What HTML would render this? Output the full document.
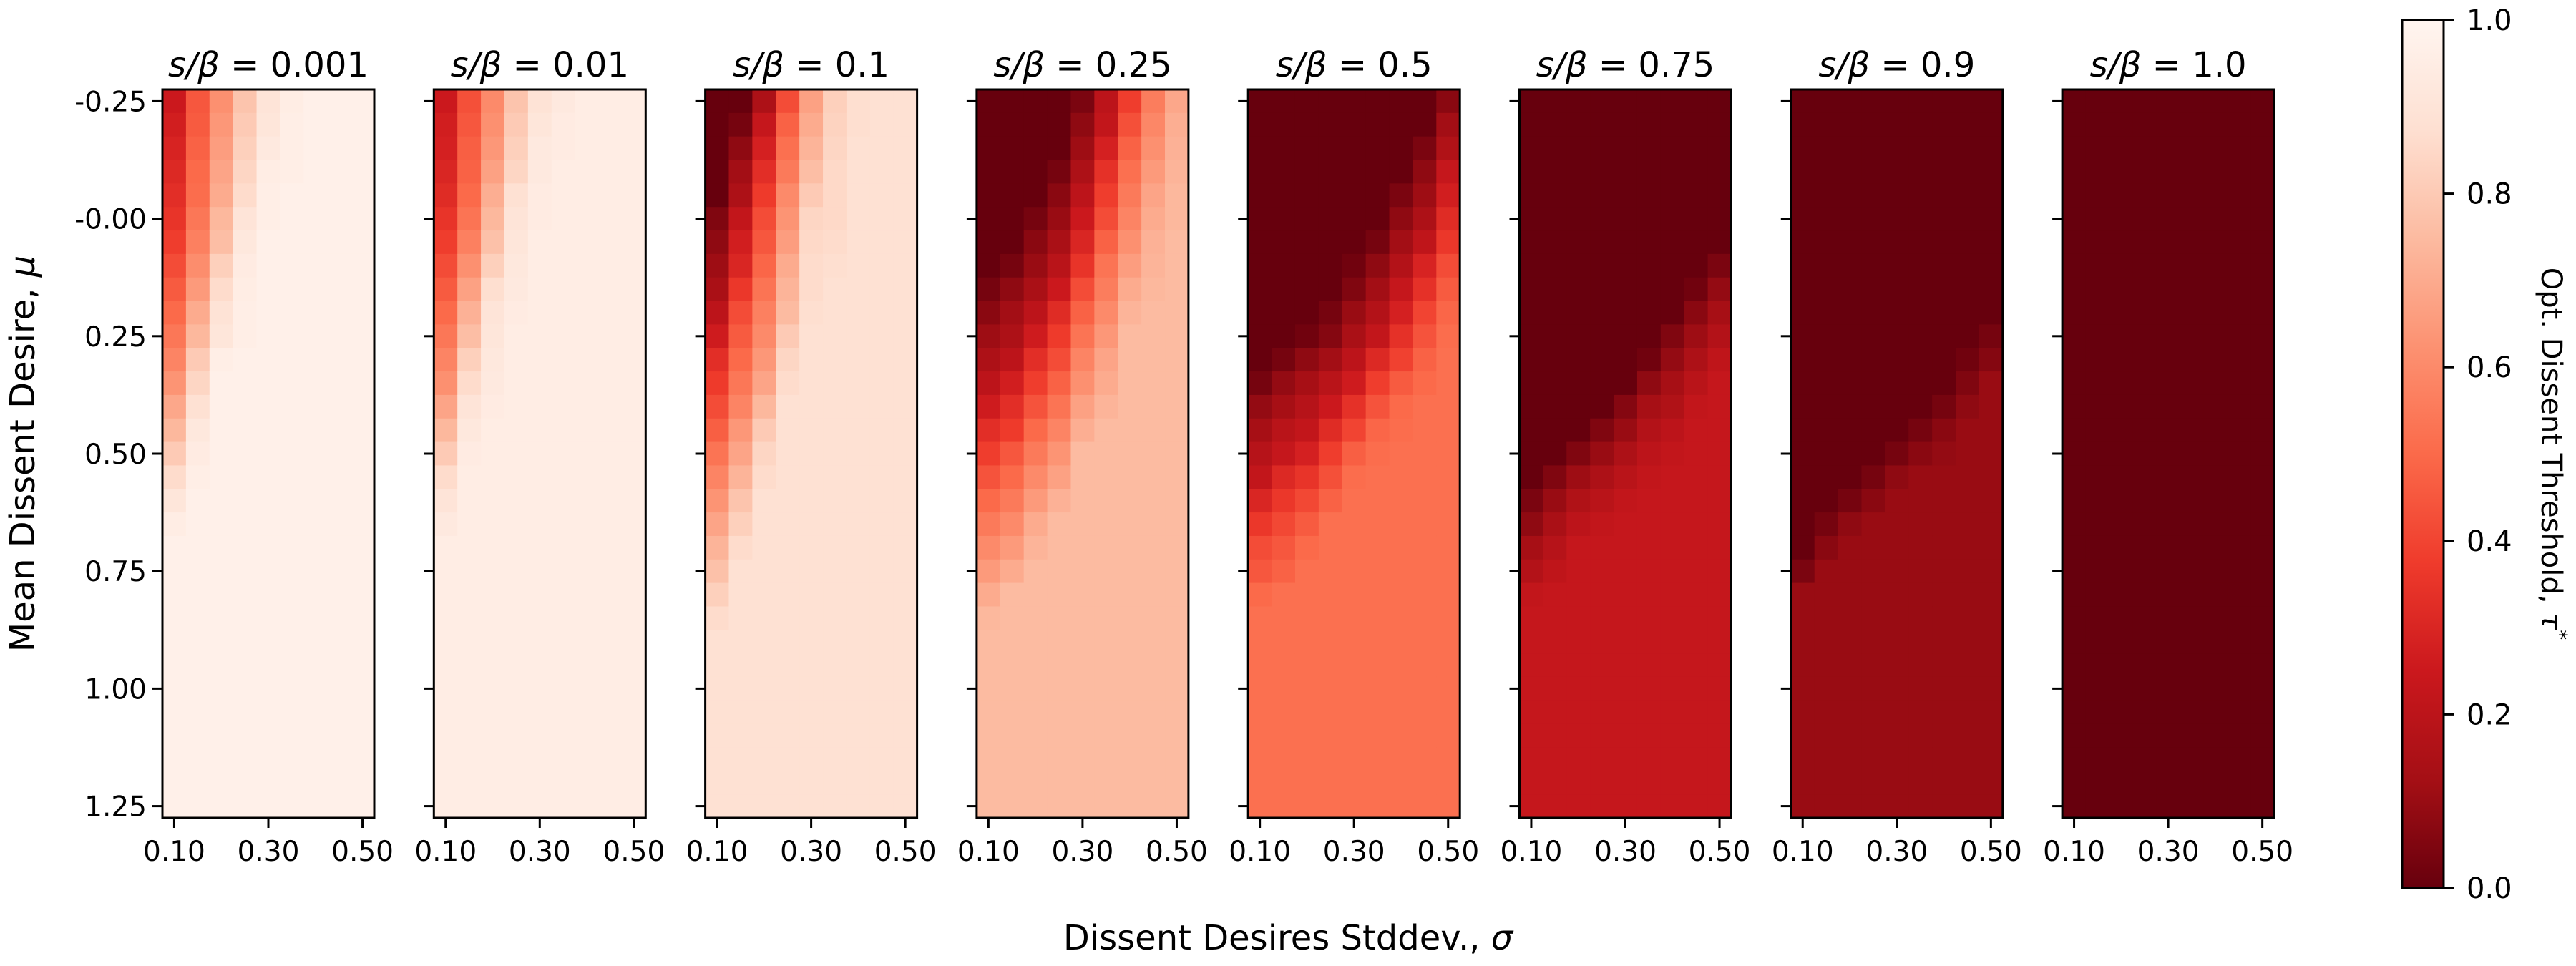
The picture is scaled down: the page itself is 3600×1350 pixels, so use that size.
<!DOCTYPE html>
<html><head><meta charset="utf-8"><style>
html,body{margin:0;padding:0;background:#fff;}
svg{display:block;font-family:"DejaVu Sans","Liberation Sans",sans-serif;}
</style></head><body>
<svg id="chart" width="3600" height="1350" viewBox="0 0 3600 1350" xmlns="http://www.w3.org/2000/svg">
<defs>
<linearGradient id="cbgrad" x1="0" y1="1" x2="0" y2="0">
<stop offset="0" stop-color="#67000d"/><stop offset="0.125" stop-color="#a50f15"/><stop offset="0.25" stop-color="#cb181d"/><stop offset="0.375" stop-color="#ef3b2c"/><stop offset="0.5" stop-color="#fb6a4a"/><stop offset="0.625" stop-color="#fc9272"/><stop offset="0.75" stop-color="#fcbba1"/><stop offset="0.875" stop-color="#fee0d2"/><stop offset="1" stop-color="#fff5f0"/>
</linearGradient>
</defs>
<g id="panels"></g>
<text x="0" y="0" font-size="48" text-anchor="middle" transform="translate(48,634) rotate(-90)">Mean Dissent Desire, <tspan font-style="italic">μ</tspan></text>
<text x="1800" y="1327" font-size="48" text-anchor="middle">Dissent Desires Stddev., <tspan font-style="italic">σ</tspan></text>
<g>
<rect x="3357" y="28" width="58" height="1213" fill="url(#cbgrad)" stroke="#000" stroke-width="3"/>
<g id="cbticks"></g>
<text x="0" y="0" font-size="40" text-anchor="middle" transform="translate(3552,634) rotate(90)">Opt. Dissent Threshold, <tspan font-style="italic">τ</tspan><tspan font-size="28" dy="-16">*</tspan></text>
</g>
</svg>
<script>
const sigmaLabels = ["0.10","0.15","0.20","0.25","0.30","0.35","0.40","0.45","0.50"];
const sigmaTickIdx = [0,4,8];
const muTickLabels = ["-0.25","-0.00","0.25","0.50","0.75","1.00","1.25"];
const muTickIdx = [0,5,10,15,20,25,30];
const panelTitles = ["0.001","0.01","0.1","0.25","0.5","0.75","0.9","1.0"];
const cbTicks = [0,0.2,0.4,0.6,0.8,1.0];
// each panel: 9 columns (sigma), each 31 rows (mu from -0.25 to 1.25)
const panel1 = [
[.25,.27,.29,.31,.33,.35,.38,.42,.46,.5,.54,.58,.63,.69,.74,.8,.86,.91,.95,.97,.97,.97,.97,.97,.97,.97,.97,.97,.97,.97,.97],
[.45,.46,.48,.5,.51,.54,.57,.61,.65,.7,.74,.8,.84,.88,.92,.94,.96,.97,.97,.97,.97,.97,.97,.97,.97,.97,.97,.97,.97,.97,.97],
[.62,.64,.66,.68,.7,.74,.76,.82,.86,.89,.91,.96,.97,.97,.97,.97,.97,.97,.97,.97,.97,.97,.97,.97,.97,.97,.97,.97,.97,.97,.97],
[.78,.8,.82,.84,.86,.9,.92,.94,.95,.96,.96,.97,.97,.97,.97,.97,.97,.97,.97,.97,.97,.97,.97,.97,.97,.97,.97,.97,.97,.97,.97],
[.9,.91,.93,.95,.96,.96,.97,.97,.97,.97,.97,.97,.97,.97,.97,.97,.97,.97,.97,.97,.97,.97,.97,.97,.97,.97,.97,.97,.97,.97,.97],
[.95,.96,.96,.96,.97,.97,.97,.97,.97,.97,.97,.97,.97,.97,.97,.97,.97,.97,.97,.97,.97,.97,.97,.97,.97,.97,.97,.97,.97,.97,.97],
[.97,.97,.97,.97,.97,.97,.97,.97,.97,.97,.97,.97,.97,.97,.97,.97,.97,.97,.97,.97,.97,.97,.97,.97,.97,.97,.97,.97,.97,.97,.97],
[.97,.97,.97,.97,.97,.97,.97,.97,.97,.97,.97,.97,.97,.97,.97,.97,.97,.97,.97,.97,.97,.97,.97,.97,.97,.97,.97,.97,.97,.97,.97],
[.97,.97,.97,.97,.97,.97,.97,.97,.97,.97,.97,.97,.97,.97,.97,.97,.97,.97,.97,.97,.97,.97,.97,.97,.97,.97,.97,.97,.97,.97,.97]
];
const panel2 = [
[.25,.27,.28,.3,.32,.35,.38,.42,.46,.5,.54,.58,.62,.68,.74,.8,.86,.9,.93,.95,.95,.95,.95,.95,.95,.95,.95,.95,.95,.95,.95],
[.43,.45,.47,.48,.5,.53,.57,.62,.67,.72,.76,.82,.86,.9,.92,.94,.95,.95,.95,.95,.95,.95,.95,.95,.95,.95,.95,.95,.95,.95,.95],
[.6,.62,.64,.67,.71,.74,.77,.82,.87,.9,.91,.92,.93,.94,.95,.95,.95,.95,.95,.95,.95,.95,.95,.95,.95,.95,.95,.95,.95,.95,.95],
[.78,.8,.82,.84,.88,.9,.91,.92,.93,.94,.95,.95,.95,.95,.95,.95,.95,.95,.95,.95,.95,.95,.95,.95,.95,.95,.95,.95,.95,.95,.95],
[.89,.91,.93,.93,.94,.94,.95,.95,.95,.95,.95,.95,.95,.95,.95,.95,.95,.95,.95,.95,.95,.95,.95,.95,.95,.95,.95,.95,.95,.95,.95],
[.93,.94,.94,.95,.95,.95,.95,.95,.95,.95,.95,.95,.95,.95,.95,.95,.95,.95,.95,.95,.95,.95,.95,.95,.95,.95,.95,.95,.95,.95,.95],
[.95,.95,.95,.95,.95,.95,.95,.95,.95,.95,.95,.95,.95,.95,.95,.95,.95,.95,.95,.95,.95,.95,.95,.95,.95,.95,.95,.95,.95,.95,.95],
[.95,.95,.95,.95,.95,.95,.95,.95,.95,.95,.95,.95,.95,.95,.95,.95,.95,.95,.95,.95,.95,.95,.95,.95,.95,.95,.95,.95,.95,.95,.95],
[.95,.95,.95,.95,.95,.95,.95,.95,.95,.95,.95,.95,.95,.95,.95,.95,.95,.95,.95,.95,.95,.95,.95,.95,.95,.95,.95,.95,.95,.95,.95]
];
const panel3 = [
[0,0,0,0,0,.05,.08,.11,.14,.2,.26,.33,.37,.42,.47,.53,.58,.63,.68,.73,.77,.82,.86,.88,.88,.88,.88,.88,.88,.88,.88],
[0,.03,.08,.12,.15,.22,.27,.3,.36,.42,.46,.5,.54,.58,.64,.68,.73,.78,.82,.86,.88,.88,.88,.88,.88,.88,.88,.88,.88,.88,.88],
[.15,.23,.28,.33,.37,.42,.45,.49,.53,.57,.6,.64,.68,.74,.8,.84,.86,.88,.88,.88,.88,.88,.88,.88,.88,.88,.88,.88,.88,.88,.88],
[.42,.48,.52,.55,.6,.63,.66,.7,.73,.75,.8,.84,.86,.88,.88,.88,.88,.88,.88,.88,.88,.88,.88,.88,.88,.88,.88,.88,.88,.88,.88],
[.67,.7,.73,.76,.8,.84,.85,.86,.86,.87,.88,.88,.88,.88,.88,.88,.88,.88,.88,.88,.88,.88,.88,.88,.88,.88,.88,.88,.88,.88,.88],
[.82,.83,.84,.85,.85,.85,.86,.87,.88,.88,.88,.88,.88,.88,.88,.88,.88,.88,.88,.88,.88,.88,.88,.88,.88,.88,.88,.88,.88,.88,.88],
[.87,.87,.88,.88,.88,.88,.88,.88,.88,.88,.88,.88,.88,.88,.88,.88,.88,.88,.88,.88,.88,.88,.88,.88,.88,.88,.88,.88,.88,.88,.88],
[.88,.88,.88,.88,.88,.88,.88,.88,.88,.88,.88,.88,.88,.88,.88,.88,.88,.88,.88,.88,.88,.88,.88,.88,.88,.88,.88,.88,.88,.88,.88],
[.88,.88,.88,.88,.88,.88,.88,.88,.88,.88,.88,.88,.88,.88,.88,.88,.88,.88,.88,.88,.88,.88,.88,.88,.88,.88,.88,.88,.88,.88,.88]
];
const panel4 = [
[0,0,0,0,0,0,0,0,.03,.07,.11,.15,.2,.26,.33,.38,.44,.5,.55,.6,.65,.7,.74,.75,.75,.75,.75,.75,.75,.75,.75],
[0,0,0,0,0,0,0,.03,.08,.12,.15,.2,.27,.33,.37,.45,.5,.55,.6,.65,.7,.75,.75,.75,.75,.75,.75,.75,.75,.75,.75],
[0,0,0,0,0,.03,.07,.1,.14,.2,.26,.33,.38,.44,.5,.55,.6,.65,.7,.73,.75,.75,.75,.75,.75,.75,.75,.75,.75,.75,.75],
[0,0,0,.03,.07,.1,.14,.19,.25,.32,.37,.42,.48,.53,.58,.63,.67,.72,.75,.75,.75,.75,.75,.75,.75,.75,.75,.75,.75,.75,.75],
[.04,.08,.11,.15,.2,.25,.3,.35,.42,.48,.53,.58,.62,.67,.71,.75,.75,.75,.75,.75,.75,.75,.75,.75,.75,.75,.75,.75,.75,.75,.75],
[.2,.22,.28,.34,.38,.42,.48,.53,.56,.6,.64,.68,.7,.73,.75,.75,.75,.75,.75,.75,.75,.75,.75,.75,.75,.75,.75,.75,.75,.75,.75],
[.38,.43,.48,.52,.55,.58,.62,.66,.7,.73,.75,.75,.75,.75,.75,.75,.75,.75,.75,.75,.75,.75,.75,.75,.75,.75,.75,.75,.75,.75,.75],
[.56,.59,.62,.65,.68,.7,.72,.73,.74,.75,.75,.75,.75,.75,.75,.75,.75,.75,.75,.75,.75,.75,.75,.75,.75,.75,.75,.75,.75,.75,.75],
[.69,.71,.72,.73,.74,.74,.75,.75,.75,.75,.75,.75,.75,.75,.75,.75,.75,.75,.75,.75,.75,.75,.75,.75,.75,.75,.75,.75,.75,.75,.75]
];
const panel5 = [
[0,0,0,0,0,0,0,0,0,0,0,0,.03,.09,.13,.18,.22,.3,.36,.42,.45,.5,.52,.52,.52,.52,.52,.52,.52,.52,.52],
[0,0,0,0,0,0,0,0,0,0,0,.03,.09,.13,.19,.23,.31,.36,.41,.45,.48,.52,.52,.52,.52,.52,.52,.52,.52,.52,.52],
[0,0,0,0,0,0,0,0,0,0,.02,.08,.13,.18,.22,.28,.35,.41,.46,.5,.52,.52,.52,.52,.52,.52,.52,.52,.52,.52,.52],
[0,0,0,0,0,0,0,0,0,.03,.06,.12,.19,.25,.32,.38,.43,.48,.52,.52,.52,.52,.52,.52,.52,.52,.52,.52,.52,.52,.52],
[0,0,0,0,0,0,0,.02,.05,.1,.14,.2,.26,.34,.4,.47,.51,.52,.52,.52,.52,.52,.52,.52,.52,.52,.52,.52,.52,.52,.52],
[0,0,0,0,0,0,.03,.08,.12,.17,.22,.31,.38,.44,.49,.51,.52,.52,.52,.52,.52,.52,.52,.52,.52,.52,.52,.52,.52,.52,.52],
[0,0,0,0,.04,.08,.12,.17,.23,.28,.34,.39,.46,.5,.51,.52,.52,.52,.52,.52,.52,.52,.52,.52,.52,.52,.52,.52,.52,.52,.52],
[0,0,.04,.08,.11,.15,.21,.29,.34,.4,.44,.48,.5,.52,.52,.52,.52,.52,.52,.52,.52,.52,.52,.52,.52,.52,.52,.52,.52,.52,.52],
[.07,.12,.16,.23,.27,.32,.36,.42,.46,.49,.51,.52,.52,.52,.52,.52,.52,.52,.52,.52,.52,.52,.52,.52,.52,.52,.52,.52,.52,.52,.52]
];
const panel6 = [
[0,0,0,0,0,0,0,0,0,0,0,0,0,0,0,0,0,.04,.08,.13,.17,.22,.23,.23,.23,.23,.23,.23,.23,.23,.23],
[0,0,0,0,0,0,0,0,0,0,0,0,0,0,0,0,.05,.1,.14,.18,.21,.23,.23,.23,.23,.23,.23,.23,.23,.23,.23],
[0,0,0,0,0,0,0,0,0,0,0,0,0,0,0,.05,.11,.16,.2,.23,.23,.23,.23,.23,.23,.23,.23,.23,.23,.23,.23],
[0,0,0,0,0,0,0,0,0,0,0,0,0,0,.05,.1,.15,.19,.22,.23,.23,.23,.23,.23,.23,.23,.23,.23,.23,.23,.23],
[0,0,0,0,0,0,0,0,0,0,0,0,0,.06,.1,.15,.19,.22,.23,.23,.23,.23,.23,.23,.23,.23,.23,.23,.23,.23,.23],
[0,0,0,0,0,0,0,0,0,0,0,.02,.08,.13,.17,.2,.22,.23,.23,.23,.23,.23,.23,.23,.23,.23,.23,.23,.23,.23,.23],
[0,0,0,0,0,0,0,0,0,0,.05,.09,.13,.16,.2,.22,.23,.23,.23,.23,.23,.23,.23,.23,.23,.23,.23,.23,.23,.23,.23],
[0,0,0,0,0,0,0,0,.02,.07,.11,.15,.19,.22,.23,.23,.23,.23,.23,.23,.23,.23,.23,.23,.23,.23,.23,.23,.23,.23,.23],
[0,0,0,0,0,0,0,.04,.09,.13,.17,.21,.23,.23,.23,.23,.23,.23,.23,.23,.23,.23,.23,.23,.23,.23,.23,.23,.23,.23,.23]
];
const panel7 = [
[0,0,0,0,0,0,0,0,0,0,0,0,0,0,0,0,0,0,0,0,.04,.1,.1,.1,.1,.1,.1,.1,.1,.1,.1],
[0,0,0,0,0,0,0,0,0,0,0,0,0,0,0,0,0,0,.03,.07,.1,.1,.1,.1,.1,.1,.1,.1,.1,.1,.1],
[0,0,0,0,0,0,0,0,0,0,0,0,0,0,0,0,0,.03,.08,.1,.1,.1,.1,.1,.1,.1,.1,.1,.1,.1,.1],
[0,0,0,0,0,0,0,0,0,0,0,0,0,0,0,0,.03,.07,.1,.1,.1,.1,.1,.1,.1,.1,.1,.1,.1,.1,.1],
[0,0,0,0,0,0,0,0,0,0,0,0,0,0,0,.03,.08,.1,.1,.1,.1,.1,.1,.1,.1,.1,.1,.1,.1,.1,.1],
[0,0,0,0,0,0,0,0,0,0,0,0,0,0,.03,.07,.1,.1,.1,.1,.1,.1,.1,.1,.1,.1,.1,.1,.1,.1,.1],
[0,0,0,0,0,0,0,0,0,0,0,0,0,.03,.07,.09,.1,.1,.1,.1,.1,.1,.1,.1,.1,.1,.1,.1,.1,.1,.1],
[0,0,0,0,0,0,0,0,0,0,0,.02,.05,.08,.1,.1,.1,.1,.1,.1,.1,.1,.1,.1,.1,.1,.1,.1,.1,.1,.1],
[0,0,0,0,0,0,0,0,0,0,.03,.06,.1,.1,.1,.1,.1,.1,.1,.1,.1,.1,.1,.1,.1,.1,.1,.1,.1,.1,.1]
];
const panel8 = [
[0,0,0,0,0,0,0,0,0,0,0,0,0,0,0,0,0,0,0,0,0,0,0,0,0,0,0,0,0,0,0],
[0,0,0,0,0,0,0,0,0,0,0,0,0,0,0,0,0,0,0,0,0,0,0,0,0,0,0,0,0,0,0],
[0,0,0,0,0,0,0,0,0,0,0,0,0,0,0,0,0,0,0,0,0,0,0,0,0,0,0,0,0,0,0],
[0,0,0,0,0,0,0,0,0,0,0,0,0,0,0,0,0,0,0,0,0,0,0,0,0,0,0,0,0,0,0],
[0,0,0,0,0,0,0,0,0,0,0,0,0,0,0,0,0,0,0,0,0,0,0,0,0,0,0,0,0,0,0],
[0,0,0,0,0,0,0,0,0,0,0,0,0,0,0,0,0,0,0,0,0,0,0,0,0,0,0,0,0,0,0],
[0,0,0,0,0,0,0,0,0,0,0,0,0,0,0,0,0,0,0,0,0,0,0,0,0,0,0,0,0,0,0],
[0,0,0,0,0,0,0,0,0,0,0,0,0,0,0,0,0,0,0,0,0,0,0,0,0,0,0,0,0,0,0],
[0,0,0,0,0,0,0,0,0,0,0,0,0,0,0,0,0,0,0,0,0,0,0,0,0,0,0,0,0,0,0]
];
const panels = [panel1,panel2,panel3,panel4,panel5,panel6,panel7,panel8];

const NS = "http://www.w3.org/2000/svg";
const P0X = 227, PSTEP = 379.3, PW = 296, PT = 125, PH = 1018;
const NROWS = 31, NCOLS = 9;
const stops = [[103,0,13],[165,15,21],[203,24,29],[239,59,44],[251,106,74],[252,146,114],[252,187,161],[254,224,210],[255,245,240]];
function color(v){
  v = Math.max(0, Math.min(1, v));
  const t = v*8, i = Math.min(7, Math.floor(t)), f = t - i;
  const a = stops[i], b = stops[i+1];
  return "rgb(" + a.map((c,k)=>Math.round(c+(b[k]-c)*f)).join(",") + ")";
}
function xScale(p, col){ return P0X + p*PSTEP + col*PW/NCOLS; }
function yScale(row){ return PT + row*PH/NROWS; }
function mk(tag, attrs){ const e = document.createElementNS(NS, tag); for (const k in attrs) e.setAttribute(k, attrs[k]); return e; }

const root = document.getElementById("panels");
panels.forEach((grid, p) => {
  const g = mk("g", {});
  
  
  root.appendChild(g);
  grid.forEach((colVals, c) => {
    colVals.forEach((v, r) => {
      const x0 = xScale(p, c), x1 = xScale(p, c+1), y0 = yScale(r), y1 = yScale(r+1);
      const rect = mk("rect", {x: x0, y: y0, width: x1-x0+0.6, height: y1-y0+0.6, fill: color(v)});
      
      
      g.appendChild(rect);
    });
  });
  const left = xScale(p, 0);
  const frame = mk("rect", {x: left, y: PT, width: PW, height: PH, fill: "none", stroke: "#000", "stroke-width": 3});
  
  
  g.appendChild(frame);
  // title
  const t = mk("text", {x: left + PW/2, y: 107, "font-size": 48, "text-anchor": "middle"});
  
  
  const ts = mk("tspan", {"font-style": "italic"}); ts.textContent = "s/β";
  t.appendChild(ts);
  t.appendChild(document.createTextNode(" = " + panelTitles[p]));
  g.appendChild(t);
  // y ticks
  muTickIdx.forEach((ri, k) => {
    const y = yScale(ri + 0.5);
    const tk = mk("line", {x1: left - 14, x2: left, y1: y, y2: y, stroke: "#000", "stroke-width": 3});
    
    
    g.appendChild(tk);
    if (p === 0) {
      const lb = mk("text", {x: left - 22, y: y + 14, "font-size": 39, "text-anchor": "end"});
      
      
      lb.textContent = muTickLabels[k];
      g.appendChild(lb);
    }
  });
  // x ticks
  sigmaTickIdx.forEach((ci) => {
    const x = xScale(p, ci + 0.5);
    const tk = mk("line", {x1: x, x2: x, y1: PT + PH, y2: PT + PH + 14, stroke: "#000", "stroke-width": 3});
    
    
    g.appendChild(tk);
    const lb = mk("text", {x: x, y: 1203, "font-size": 39, "text-anchor": "middle"});
    
    
    lb.textContent = sigmaLabels[ci];
    g.appendChild(lb);
  });
});
// colorbar ticks
const cbg = document.getElementById("cbticks");
const CBT = 28, CBH = 1213, CBR = 3415;
cbTicks.forEach(v => {
  const y = CBT + CBH*(1 - v);
  const tk = mk("line", {x1: CBR, x2: CBR + 14, y1: y, y2: y, stroke: "#000", "stroke-width": 3});
  
  
  cbg.appendChild(tk);
  const lb = mk("text", {x: CBR + 32, y: y + 14, "font-size": 40});
  
  
  lb.textContent = v.toFixed(1);
  cbg.appendChild(lb);
});
</script>
</body></html>
